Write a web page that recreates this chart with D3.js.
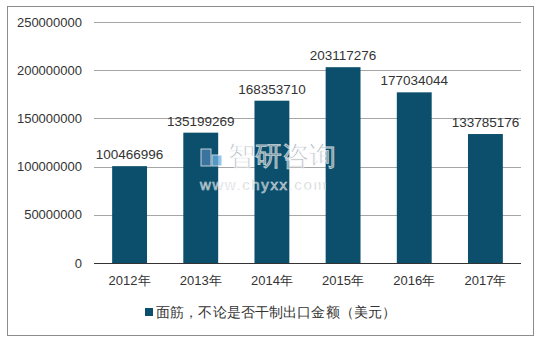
<!DOCTYPE html>
<html>
<head>
<meta charset="utf-8">
<script src="https://cdn.jsdelivr.net/npm/d3@7"></script>
<style>
  body { margin: 0; background: #fff; }
  text { font-family: "Liberation Sans", Arial, sans-serif; }
</style>
</head>
<body>
<script>
// chart data
var years = ["2012年", "2013年", "2014年", "2015年", "2016年", "2017年"];
var values = [100466996, 135199269, 168353710, 203117276, 177034044, 133785176];
var yTicks = [0, 50000000, 100000000, 150000000, 200000000, 250000000];
var seriesName = "面筋，不论是否干制出口金额（美元）";

var W = 539, H = 343;
var plot = {left: 94, right: 521, top: 22, bottom: 263};
var barColor = "#0b4f6c";

var svg = d3.select("body").append("svg")
    .attr("width", W)
    .attr("height", H);

// outer frame
svg.append("rect")
    .attr("x", 7.5).attr("y", 6.5)
    .attr("width", 526).attr("height", 329)
    .attr("fill", "#fff")
    .attr("stroke", "#8c8c8c")
    .attr("stroke-width", 1);

var x = d3.scaleBand()
    .domain(years)
    .range([plot.left, plot.right])
    .paddingInner(0.51)
    .paddingOuter(0.255);

var y = d3.scaleLinear()
    .domain([0, 250000000])
    .range([plot.bottom, plot.top]);

// gridlines
svg.append("g")
  .selectAll("line")
  .data(yTicks.filter(function(d) { return d > 0; }))
  .join("line")
    .attr("x1", plot.left).attr("x2", plot.right)
    .attr("y1", function(d) { return Math.round(y(d)) + 0.5; })
    .attr("y2", function(d) { return Math.round(y(d)) + 0.5; })
    .attr("stroke", "#a6a6a6")
    .attr("stroke-width", 1);

// y tick labels
svg.append("g")
  .selectAll("text")
  .data(yTicks)
  .join("text")
    .attr("x", 82)
    .attr("y", function(d) { return y(d); })
    .attr("dy", "0.35em")
    .attr("text-anchor", "end")
    .attr("font-size", 13)
    .attr("fill", "#333")
    .text(function(d) { return d; });

// bars
svg.append("g")
  .selectAll("rect")
  .data(values)
  .join("rect")
    .attr("x", function(d, i) { return x(years[i]); })
    .attr("y", function(d) { return y(d); })
    .attr("width", x.bandwidth())
    .attr("height", function(d) { return y(0) - y(d); })
    .attr("fill", barColor);

// baseline
svg.append("line")
    .attr("x1", plot.left).attr("x2", plot.right)
    .attr("y1", plot.bottom + 0.5).attr("y2", plot.bottom + 0.5)
    .attr("stroke", "#333")
    .attr("stroke-width", 1);

// watermark
var wm = svg.append("g").attr("opacity", 0.75);
wm.append("rect").attr("x", 201).attr("y", 149).attr("width", 10).attr("height", 17)
    .attr("fill", "#4a7fae").attr("stroke", "#fff").attr("stroke-width", 1);
wm.append("rect").attr("x", 212).attr("y", 155).attr("width", 10).attr("height", 11)
    .attr("fill", "#6fb0e0").attr("stroke", "#fff").attr("stroke-width", 1);
wm.append("text")
    .attr("x", 228).attr("y", 165)
    .attr("font-family", "Noto Sans CJK SC")
    .attr("font-size", 27)
    .attr("fill", "#9aa3ab")
    .attr("stroke", "#ffffff").attr("stroke-width", 0.8)
    .text("智研咨询");
wm.append("text")
    .attr("x", 200).attr("y", 190)
    .attr("font-size", 15)
    .attr("letter-spacing", 1.6)
    .attr("fill", "#9aa3ab")
    .attr("stroke", "#ffffff").attr("stroke-width", 0.6)
    .text("www.chyxx.com");

// value labels
svg.append("g")
  .selectAll("text")
  .data(values)
  .join("text")
    .attr("x", function(d, i) { return x(years[i]) + x.bandwidth() / 2; })
    .attr("y", function(d) { return y(d) - 7; })
    .attr("text-anchor", "middle")
    .attr("font-size", 13.5)
    .attr("fill", "#333")
    .text(function(d) { return d; });

// x labels
svg.append("g")
  .selectAll("text")
  .data(years)
  .join("text")
    .attr("x", function(d) { return x(d) + x.bandwidth() / 2; })
    .attr("y", 285)
    .attr("text-anchor", "middle")
    .attr("font-size", 13)
    .attr("fill", "#333")
    .text(function(d) { return d; });

// legend
svg.append("rect")
    .attr("x", 145).attr("y", 308)
    .attr("width", 8).attr("height", 8)
    .attr("fill", barColor);
svg.append("text")
    .attr("x", 156).attr("y", 317)
    .attr("font-family", "Noto Sans CJK SC")
    .attr("font-size", 14.2)
    .attr("textLength", 240)
    .attr("lengthAdjust", "spacing")
    .attr("fill", "#333")
    .text(seriesName);
</script>
</body>
</html>
